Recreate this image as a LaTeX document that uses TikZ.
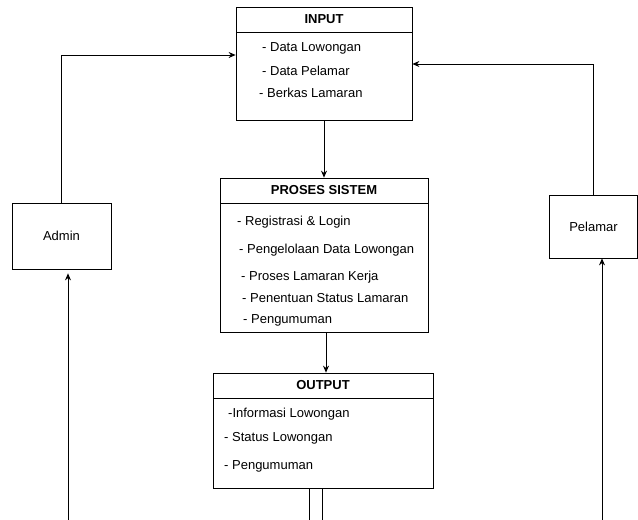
\documentclass[tikz,border=0pt]{standalone}
\usepackage{fontspec}
\setmainfont{Liberation Sans}
\usepackage{tikz}
\usetikzlibrary{arrows.meta}

\begin{document}
\begin{tikzpicture}
[every node/.style={inner sep=0pt, font=\fontsize{13}{15}\selectfont}, >={Stealth[length=7pt, width=6pt]},
 box/.style={rectangle, fill=white, line width=0.75pt, draw=black},
 item/.style={anchor=west}]
\useasboundingbox (0pt, 0pt) rectangle (638pt, -520pt);
\node (inhead) [box, minimum width=176pt, minimum height=25pt] at (324pt, -19.5pt) {\textbf{INPUT}};
\node (inbody) [box, minimum width=176pt, minimum height=88pt] at (324pt, -76pt) {};
\node (prohead) [box, minimum width=208pt, minimum height=25pt] at (324pt, -190.5pt) {\textbf{PROSES SISTEM}};
\node (probody) [box, minimum width=208pt, minimum height=129pt] at (324pt, -267.5pt) {};
\node (outhead) [box, minimum width=220pt, minimum height=25pt] at (323pt, -385.5pt) {\textbf{OUTPUT}};
\node (outbody) [box, minimum width=220pt, minimum height=90pt] at (323pt, -443pt) {};
\node (admin) [box, minimum width=99pt, minimum height=66pt] at (61.5pt, -236pt) {Admin};
\node (pelamar) [box, minimum width=88pt, minimum height=63pt] at (593.5pt, -226.5pt) {Pelamar};
\coordinate (out1) at (309pt, -520pt);
\coordinate (out2) at (322pt, -520pt);
\coordinate (adminin) at (68pt, -520pt);
\coordinate (pelamarin) at (602pt, -520pt);
\draw [line width=0.75pt, ->, color=black] (admin.north) |- ([yshift=21pt]inbody.west);
\draw [line width=0.75pt, ->, color=black] (pelamar.north) |- ([yshift=12pt]inbody.east);
\draw [line width=0.75pt, ->, color=black] (inbody.south) to (prohead.north);
\draw [line width=0.75pt, ->, color=black] ([xshift=2pt]probody.south) to ([xshift=3pt]outhead.north);
\draw [line width=0.75pt, color=black] (outbody.south -| out1) to (out1);
\draw [line width=0.75pt, color=black] (outbody.south -| out2) to (out2);
\draw [line width=0.75pt, ->, color=black, shorten >=4pt] (adminin) to (admin.south -| adminin);
\draw [line width=0.75pt, ->, color=black] (pelamarin) to (pelamar.south -| pelamarin);
\node at (262pt, -48pt) [item] {\textcolor{black}{- Data Lowongan}};
\node at (262pt, -71pt) [item] {\textcolor{black}{- Data Pelamar}};
\node at (259pt, -93pt) [item] {\textcolor{black}{- Berkas Lamaran}};
\node at (237pt, -222pt) [item] {\textcolor{black}{- Registrasi \& Login}};
\node at (239pt, -250pt) [item] {\textcolor{black}{- Pengelolaan Data Lowongan}};
\node at (241pt, -277pt) [item] {\textcolor{black}{- Proses Lamaran Kerja}};
\node at (242pt, -298pt) [item] {\textcolor{black}{- Penentuan Status Lamaran}};
\node at (243pt, -320pt) [item] {\textcolor{black}{- Pengumuman}};
\node at (228pt, -414pt) [item] {\textcolor{black}{-Informasi Lowongan}};
\node at (224pt, -438pt) [item] {\textcolor{black}{- Status Lowongan}};
\node at (224pt, -466pt) [item] {\textcolor{black}{- Pengumuman}};
\end{tikzpicture}
\end{document}
